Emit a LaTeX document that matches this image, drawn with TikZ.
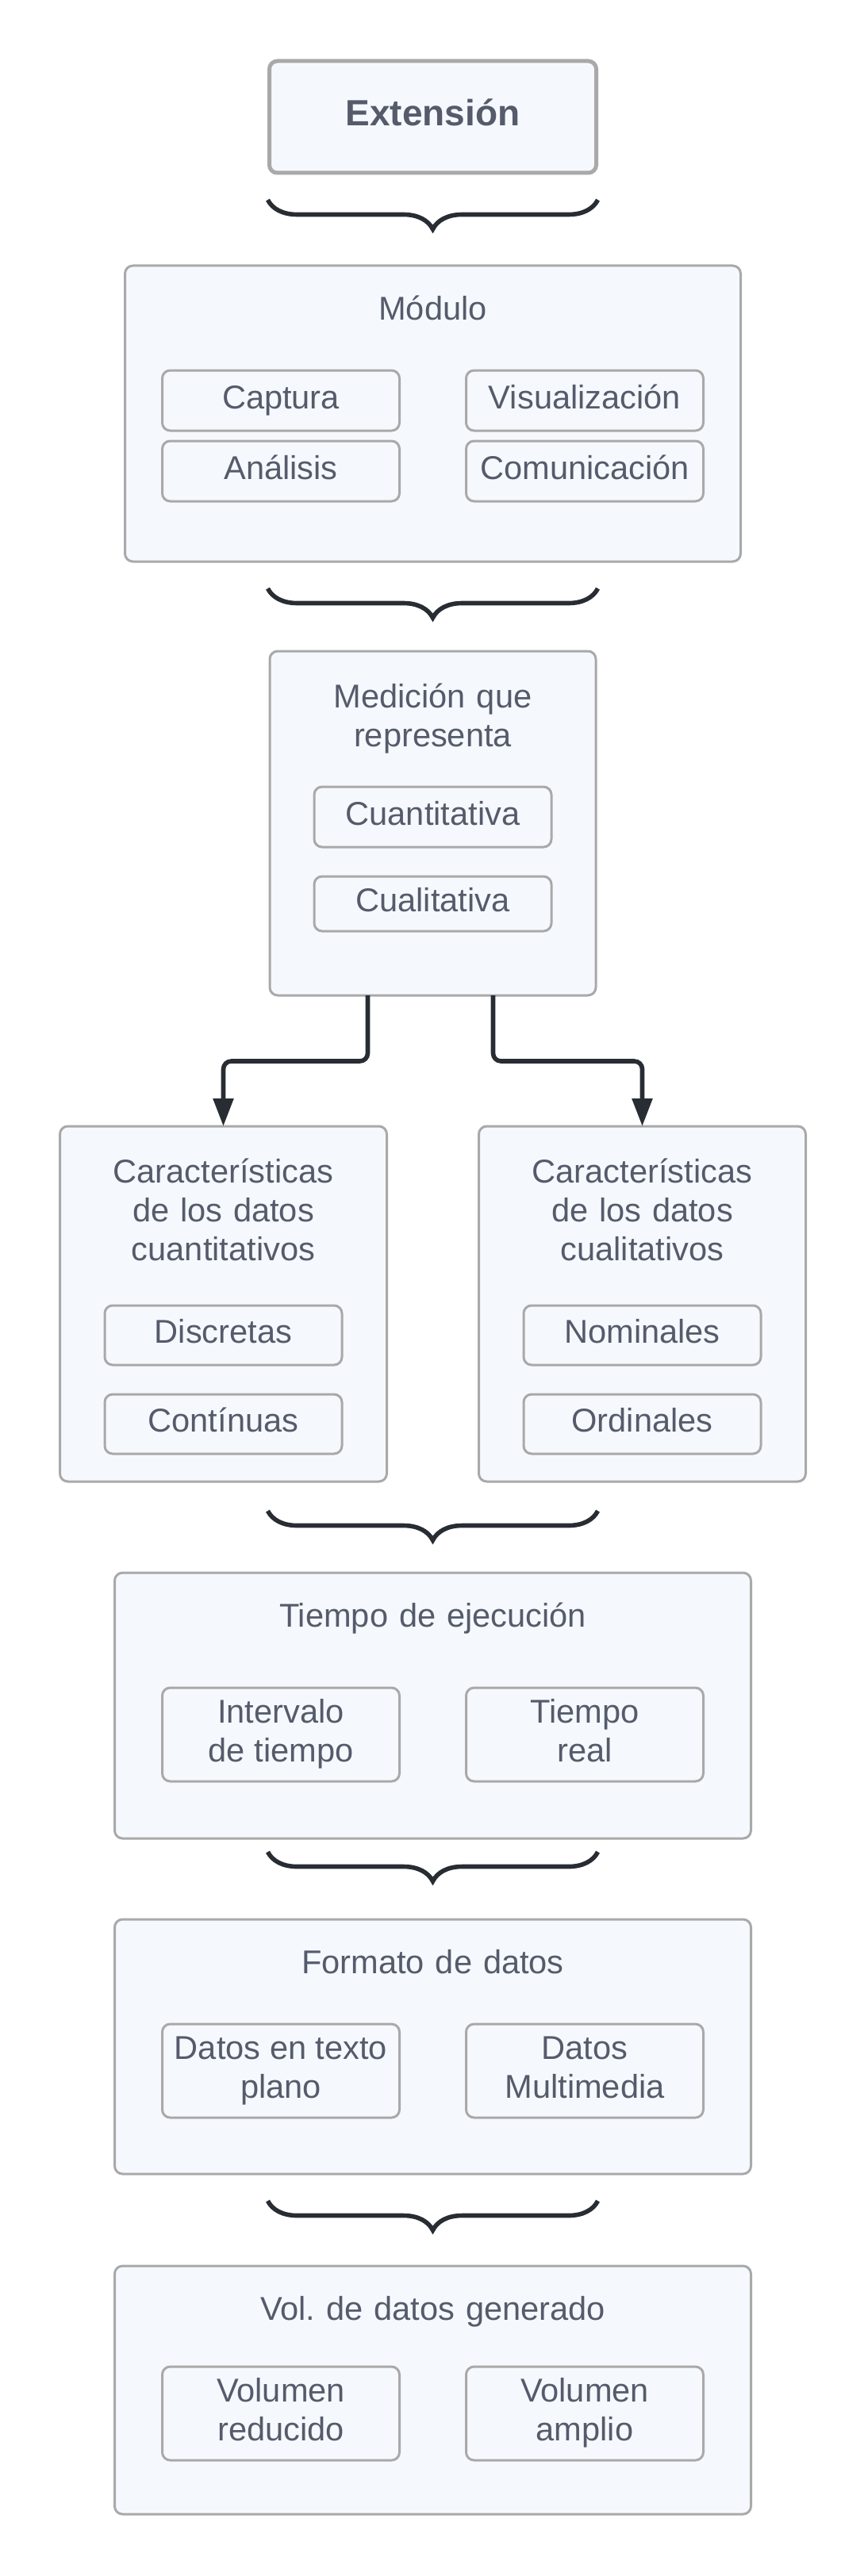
\documentclass[tikz,border=0pt]{standalone}
\usepackage{fontspec}
\setmainfont{Liberation Sans}
\usetikzlibrary{positioning, arrows.meta, decorations.pathreplacing}

\definecolor{boxline}{HTML}{A9A9A9}
\definecolor{boxfill}{HTML}{F5F9FD}
\definecolor{txtgrey}{HTML}{555B6B}
\definecolor{inkline}{HTML}{282C33}

\frenchspacing

\begin{document}
\begin{tikzpicture}[
    font=\fontsize{20.8pt}{24.5pt}\selectfont,
    text=txtgrey,
    group/.style={rectangle, draw=boxline, fill=boxfill, line width=1.5pt, rounded corners=5pt, inner sep=0pt, outer sep=0pt},
    sub/.style={rectangle, draw=boxline, fill=boxfill, line width=1.5pt, rounded corners=5pt, inner sep=0pt, outer sep=0pt, minimum width=149.5pt, align=center},
    oneline/.style={text height=15pt, text depth=5pt},
    title/.style={text width=300pt, align=center, anchor=base, inner sep=0pt},
    brc/.style={draw=inkline, line width=2.8pt, decorate, decoration={brace, mirror, amplitude=18.5pt}},
    arrow/.style={draw=inkline, line width=2.8pt, rounded corners=5pt, -{Triangle[length=17.5pt, width=12.5pt]}},
]
\useasboundingbox (0,0) rectangle (544pt,-1624pt);

% Extension
\node[group, line width=2.5pt, minimum width=206pt, minimum height=70.5pt, font=\fontsize{23pt}{27pt}\selectfont\bfseries, text height=16pt, text depth=5pt] (ext) at (272.75pt,-73.75pt) {Extensión};

% Modulo
\node[group, minimum width=388pt, minimum height=186.5pt, below=58.5pt of ext] (mod) {};
\node[title] (modtitle) at ([yshift=-34pt]mod.north) {Módulo};
\node[sub, oneline, minimum height=38pt, below=66pt of mod.north, xshift=-95.75pt] (cap) {Captura};
\node[sub, oneline, minimum height=38pt, below=6.5pt of cap] (ana) {Análisis};
\node[sub, oneline, minimum height=38pt, right=42pt of cap] (vis) {Visualización};
\node[sub, oneline, minimum height=38pt, below=6.5pt of vis] (com) {Comunicación};

% Medicion
\node[group, minimum width=205.5pt, minimum height=217pt, below=56.5pt of mod] (med) {};
\node[title] (medtitle) at ([yshift=-35.5pt]med.north) {Medición que\\representa};
\node[sub, oneline, minimum height=38pt, below=85.5pt of med.north] (cuan) {Cuantitativa};
\node[sub, oneline, minimum height=34.5pt, below=18.5pt of cuan] (cual) {Cualitativa};

% Caracteristicas
\node[group, minimum width=206pt, minimum height=224pt, below=82.5pt of med, xshift=-132pt] (charL) {};
\node[group, minimum width=206pt, minimum height=224pt, below=82.5pt of med, xshift=132pt] (charR) {};
\node[title] (charLtitle) at ([yshift=-35.5pt]charL.north) {Características\\de los datos\\cuantitativos};
\node[title] (charRtitle) at ([yshift=-35.5pt]charR.north) {Características\\de los datos\\cualitativos};
\node[sub, oneline, minimum height=37.5pt, below=113pt of charL.north] (disc) {Discretas};
\node[sub, oneline, minimum height=37.5pt, below=18.5pt of disc] (cont) {Contínuas};
\node[sub, oneline, minimum height=37.5pt, below=113pt of charR.north] (nom) {Nominales};
\node[sub, oneline, minimum height=37.5pt, below=18.5pt of nom] (ord) {Ordinales};
\coordinate (charmid) at (charL.south -| med.south);

% Tiempo
\node[group, minimum width=401pt, minimum height=167.5pt, below=57.5pt of charmid] (tiempo) {};
\node[title] (tiempotitle) at ([yshift=-34pt]tiempo.north) {Tiempo de ejecución};
\node[sub, minimum height=59pt, below=72.5pt of tiempo.north, xshift=-95.75pt] (interv) {Intervalo\strut\\de tiempo\strut};
\node[sub, minimum height=59pt, right=42pt of interv] (treal) {Tiempo\strut\\real\strut};

% Formato
\node[group, minimum width=401pt, minimum height=160.5pt, below=51pt of tiempo] (formato) {};
\node[title] (formatotitle) at ([yshift=-34pt]formato.north) {Formato de datos};
\node[sub, minimum height=59pt, below=66pt of formato.north, xshift=-95.75pt] (plano) {Datos en texto\strut\\plano\strut};
\node[sub, minimum height=59pt, right=42pt of plano] (multi) {Datos\strut\\Multimedia\strut};

% Volumen
\node[group, minimum width=401pt, minimum height=156.5pt, below=58pt of formato] (vol) {};
\node[title] (voltitle) at ([yshift=-34pt]vol.north) {Vol. de datos generado};
\node[sub, minimum height=59pt, below=63.5pt of vol.north, xshift=-95.75pt] (reduc) {Volumen\strut\\reducido\strut};
\node[sub, minimum height=59pt, right=42pt of reduc] (ampl) {Volumen\strut\\amplio\strut};

% Braces
\draw[brc] ([shift={(-104pt,-17pt)}]ext.south) -- ([shift={(104pt,-17pt)}]ext.south);
\draw[brc] ([shift={(-104pt,-17pt)}]mod.south) -- ([shift={(104pt,-17pt)}]mod.south);
\draw[brc] ([shift={(-104pt,-18.5pt)}]charmid) -- ([shift={(104pt,-18.5pt)}]charmid);
\draw[brc] ([shift={(-104pt,-8.5pt)}]tiempo.south) -- ([shift={(104pt,-8.5pt)}]tiempo.south);
\draw[brc] ([shift={(-104pt,-17pt)}]formato.south) -- ([shift={(104pt,-17pt)}]formato.south);

% Arrows
\draw[arrow] ([xshift=-41pt]med.south) -- ++(0,-41.5pt) -| (charL.north);
\draw[arrow] ([xshift=38pt]med.south) -- ++(0,-41.5pt) -| (charR.north);

\end{tikzpicture}
\end{document}
